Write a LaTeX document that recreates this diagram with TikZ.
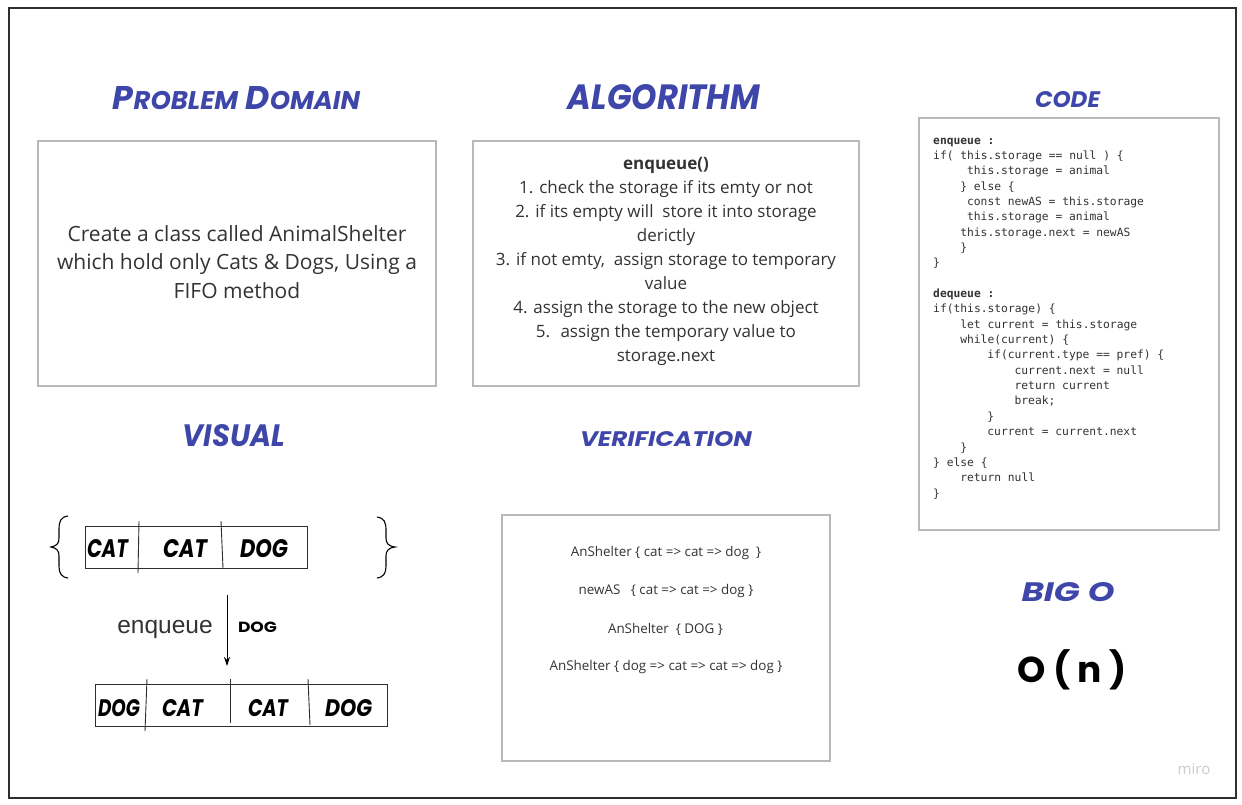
\documentclass[tikz,border=0pt]{standalone}
\usepackage{fontspec}
\usepackage{graphicx}
\usetikzlibrary{arrows.meta}
\setmainfont{Open Sans}
\setmonofont{DejaVu Sans Mono}
\newfontfamily\handfont{Poppins}
\newfontfamily\arialfont{Liberation Sans}
\definecolor{headblue}{HTML}{3E47A9}
\definecolor{boxgray}{HTML}{B8B8B8}
\definecolor{bodytext}{HTML}{333333}
\definecolor{framegray}{HTML}{2E2E2E}
\newcommand\hw[3]{\resizebox{#1pt}{#2pt}{\handfont\bfseries\itshape #3}}
\newcommand\smc[1]{\scalebox{0.78}{#1}}
\tikzset{
  heading/.style={text=headblue, inner sep=0pt},
  panel/.style={draw=boxgray, line width=1.1pt},
  body/.style={text=bodytext, inner sep=0pt, align=center},
  codeline/.style={anchor=base west, inner sep=0pt, text=bodytext, font=\fontsize{11.3}{13}\ttfamily},
  listbox/.style={draw=framegray, line width=0.9pt},
  cell/.style={inner sep=0pt, text=black},
  vline/.style={body, font=\fontsize{13.4}{16}\selectfont},
}
\begin{document}
\begin{tikzpicture}[x=1pt,y=-1pt]
\useasboundingbox (0,0) rectangle (1242,804);
\fill[white] (0,0) rectangle (1242,804);
\draw[framegray, line width=2pt] (9,8) rectangle (1236,798);

% headings
\node[heading] (hpd) at (236.5,98) {\hw{247}{23}{P\smc{ROBLEM} D\smc{OMAIN}}};
\node[heading] (halg) at (664,97.5) {\hw{192}{25}{ALGORITHM}};
\node[heading] (hcode) at (1067.5,100) {\hw{65}{16}{CODE}};
\node[heading] (hvis) at (234,436) {\hw{102}{22}{VISUAL}};
\node[heading] (hver) at (666,439.5) {\hw{172}{15}{VERIFICATION}};
\node[heading] (hbig) at (1068,592.5) {\hw{93}{19}{BIG O}};

% panels
\draw[panel] (38,141) rectangle (436,386);
\draw[panel] (473,141) rectangle (859,386);
\draw[panel] (919,118) rectangle (1219,530);
\draw[panel] (502,515) rectangle (830,761);

% problem domain text
\node[body, font=\fontsize{21}{28.5}\selectfont] (pd) at (237,262)
  {Create a class called AnimalShelter\\which hold only Cats \& Dogs, Using a\\FIFO method};

% algorithm text
\node[body, font=\fontsize{17}{24}\selectfont] (alg) at (666,261)
  {\textbf{enqueue()}\\
   1. check the storage if its emty or not\\
   2. if its empty will~ store it into storage\\
   derictly\\
   3. if not emty,~ assign storage to temporary\\
   value\\
   4. assign the storage to the new object\\
   5.~ assign the temporary value to\\
   storage.next};

% code
\node[codeline] (c0) at (933,144) {\bfseries enqueue :};
\node[codeline] (c1) at (933,159.35) {if( this.storage == null ) \{};
\node[codeline] (c2) at (966.9,174.7) {this.storage = animal};
\node[codeline] (c3) at (960.1,190.05) {\} else \{};
\node[codeline] (c4) at (966.9,205.4) {const newAS = this.storage};
\node[codeline] (c5) at (966.9,220.75) {this.storage = animal};
\node[codeline] (c6) at (960.1,236.1) {this.storage.next = newAS};
\node[codeline] (c7) at (960.1,251.45) {\}};
\node[codeline] (c8) at (933,266.8) {\}};
\node[codeline] (c10) at (933,297.5) {\bfseries dequeue :};
\node[codeline] (c11) at (933,312.85) {if(this.storage) \{};
\node[codeline] (c12) at (960.1,328.2) {let current = this.storage};
\node[codeline] (c13) at (960.1,343.55) {while(current) \{};
\node[codeline] (c14) at (987.2,358.9) {if(current.type == pref) \{};
\node[codeline] (c15) at (1014.4,374.25) {current.next = null};
\node[codeline] (c16) at (1014.4,389.6) {return current};
\node[codeline] (c17) at (1014.4,404.95) {break;};
\node[codeline] (c18) at (987.2,420.3) {\}};
\node[codeline] (c19) at (987.2,435.65) {current = current.next};
\node[codeline] (c20) at (960.1,451) {\}};
\node[codeline] (c21) at (933,466.35) {\} else \{};
\node[codeline] (c22) at (960.1,481.7) {return null};
\node[codeline] (c23) at (933,497.05) {\}};

% verification text
\node[vline] (v1) at (666,553) {AnShelter \{ cat => cat => dog~ \}};
\node[vline] (v2) at (666,591) {newAS~~ \{ cat => cat => dog \}};
\node[vline] (v3) at (665.5,629) {AnShelter~ \{ DOG \}};
\node[vline] (v4) at (666,667) {AnShelter \{ dog => cat => cat => dog \}};

% big O
\node[inner sep=0pt, text=black] (on) at (1072,670) {\handfont\bfseries\fontsize{36}{40}\selectfont O ( n )};

% visual: top list
\draw[listbox] (85,526) rectangle (307,568);
\draw[framegray, line width=0.9pt] (139,521) -- (138,573);
\draw[framegray, line width=0.9pt] (221,521) -- (223,568);
\node[cell] (t1) at (107.5,549) {\hw{41}{18}{CAT}};
\node[cell] (t2) at (185,549) {\hw{44}{18}{CAT}};
\node[cell] (t3) at (264,549) {\hw{48}{18}{DOG}};

% braces
\draw[black, line width=1.1pt] (68,516) .. controls (61,517) and (59,521) .. (59,529) -- (59,538)
  .. controls (59,543) and (57,546) .. (51,547) .. controls (57,548) and (59,551) .. (59,556)
  -- (59,566) .. controls (59,573) and (61,577) .. (68,578);
\draw[black, line width=1.1pt] (377,517) .. controls (384,518) and (386,522) .. (386,530) -- (386,538)
  .. controls (386,543) and (388,546) .. (395,547) .. controls (388,548) and (386,551) .. (386,556)
  -- (386,566) .. controls (386,573) and (384,577) .. (377,578);

% arrow
\coordinate (atop) at (227,595);
\coordinate (abot) at (227,666);
\draw[black, line width=1pt, -{Stealth[length=9pt,width=6pt]}] (atop) -- (abot);
\node[inner sep=0pt, text=bodytext] (enq) at (165,629) {\arialfont\fontsize{24.5}{28}\selectfont enqueue};
\node[inner sep=0pt, text=black] (dogl) at (257.5,627) {\resizebox{39pt}{10.5pt}{\handfont\bfseries DOG}};

% visual: bottom list
\draw[listbox] (95,684) rectangle (387,726);
\draw[framegray, line width=0.9pt] (147,679) -- (145,731);
\draw[framegray, line width=0.9pt] (230,679) -- (230,723);
\draw[framegray, line width=0.9pt] (308,679) -- (310,725);
\node[cell] (b1) at (119,708.5) {\hw{42}{17}{DOG}};
\node[cell] (b2) at (182.5,708.5) {\hw{41}{17}{CAT}};
\node[cell] (b3) at (268,708.5) {\hw{40}{17}{CAT}};
\node[cell] (b4) at (348.5,708.5) {\hw{47}{17}{DOG}};

% watermark
\node[inner sep=0pt, text=black!20] (miro) at (1194,769) {\fontsize{15}{16}\selectfont miro};
\end{tikzpicture}
\end{document}
